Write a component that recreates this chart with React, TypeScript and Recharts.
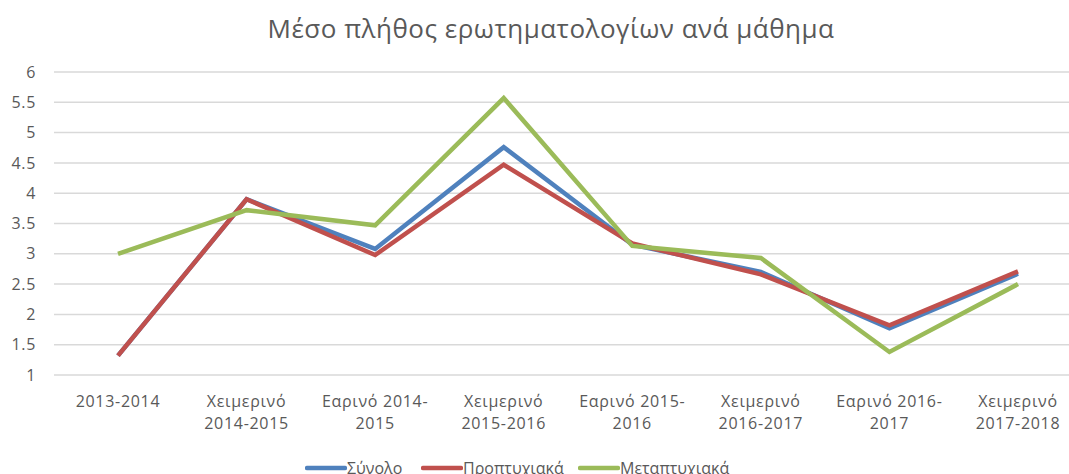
import { CartesianGrid, Legend, Line, LineChart, XAxis, YAxis } from "recharts";

const categories = [
  "2013-2014",
  "Χειμερινό 2014-2015",
  "Εαρινό 2014-2015",
  "Χειμερινό 2015-2016",
  "Εαρινό 2015-2016",
  "Χειμερινό 2016-2017",
  "Εαρινό 2016-2017",
  "Χειμερινό 2017-2018",
];

// wrapped the way the original axis wraps them
const tickLines = [
  ["2013-2014"],
  ["Χειμερινό", "2014-2015"],
  ["Εαρινό 2014-", "2015"],
  ["Χειμερινό", "2015-2016"],
  ["Εαρινό 2015-", "2016"],
  ["Χειμερινό", "2016-2017"],
  ["Εαρινό 2016-", "2017"],
  ["Χειμερινό", "2017-2018"],
];

const total = [1.32, 3.9, 3.08, 4.76, 3.15, 2.7, 1.77, 2.67];
const undergrad = [1.32, 3.9, 2.98, 4.47, 3.17, 2.66, 1.82, 2.71];
const postgrad = [3.0, 3.72, 3.47, 5.57, 3.13, 2.93, 1.38, 2.5];

const yTicks = [1, 1.5, 2, 2.5, 3, 3.5, 4, 4.5, 5, 5.5, 6];

const series = [
  { key: "total", name: "Σύνολο", color: "#4F81BD" },
  { key: "undergrad", name: "Προπτυχιακά", color: "#C0504D" },
  { key: "postgrad", name: "Μεταπτυχιακά", color: "#9BBB59" },
];

const data = categories.map((c, i) => ({
  cat: c,
  total: total[i],
  undergrad: undergrad[i],
  postgrad: postgrad[i],
}));

const FONT = "'Open Sans', Lato, sans-serif";
const INK = "#595959";

function CatTick(props: any) {
  const { x, payload, index } = props;
  const lines = tickLines[index] ?? [payload.value];
  return (
    <text x={x} y={407} textAnchor="middle" fill={INK} fontSize={16} letterSpacing={0.7} fontFamily={FONT}>
      {lines.map((l: string, i: number) => (
        <tspan key={i} x={x} dy={i === 0 ? 0 : 22}>
          {l}
        </tspan>
      ))}
    </text>
  );
}

// legend entries sit at fixed offsets like the original
const legendLeft = [0, 116, 273];

function LegendContent() {
  return (
    <div style={{ position: "relative", height: 22, fontFamily: FONT, fontSize: 16, color: INK }}>
      {series.map((s, i) => (
        <div
          key={s.key}
          style={{ position: "absolute", left: legendLeft[i], top: 0, display: "flex", alignItems: "center", whiteSpace: "nowrap" }}
        >
          <svg width={42} height={10}>
            <line x1={2} y1={5} x2={40} y2={5} stroke={s.color} strokeWidth={4.5} strokeLinecap="round" />
          </svg>
          <span>{s.name}</span>
        </div>
      ))}
    </div>
  );
}

export default function App() {
  return (
    <div style={{ position: "absolute", left: 0, top: 0, width: 1069, height: 474, overflow: "hidden", background: "#fff" }}>
      <svg width={1069} height={60} style={{ position: "absolute", left: 0, top: 0 }}>
        <text x={551} y={38} textAnchor="middle" fill={INK} fontSize={26} letterSpacing={0.5} fontFamily={FONT}>
          Μέσο πλήθος ερωτηματολογίων ανά μάθημα
        </text>
      </svg>
      <LineChart
        width={1090}
        height={474}
        data={data}
        margin={{ top: 72, right: 8, bottom: 0, left: 0 }}
      >
        <CartesianGrid vertical={false} stroke="#d9d9d9" strokeWidth={1.5} />
        <XAxis
          dataKey="cat"
          axisLine={false}
          tickLine={false}
          interval={0}
          height={99}
          padding={{ left: 64, right: 64 }}
          tick={<CatTick />}
        />
        <YAxis
          domain={[1, 6]}
          ticks={yTicks}
          width={54}
          axisLine={false}
          tickLine={false}
          tickSize={0}
          tickMargin={18}
          tick={{ fill: INK, fontSize: 16, fontFamily: FONT, letterSpacing: 0.7 }}
        />
        <Legend
          layout="horizontal"
          verticalAlign="middle"
          align="center"
          content={<LegendContent />}
          wrapperStyle={{ top: 457, left: 305, width: 600, height: 22 }}
        />
        {series.map((s) => (
          <Line
            key={s.key}
            dataKey={s.key}
            name={s.name}
            stroke={s.color}
            strokeWidth={4.5}
            dot={false}
            activeDot={false}
            type="linear"
            isAnimationActive={false}
          />
        ))}
      </LineChart>
    </div>
  );
}
